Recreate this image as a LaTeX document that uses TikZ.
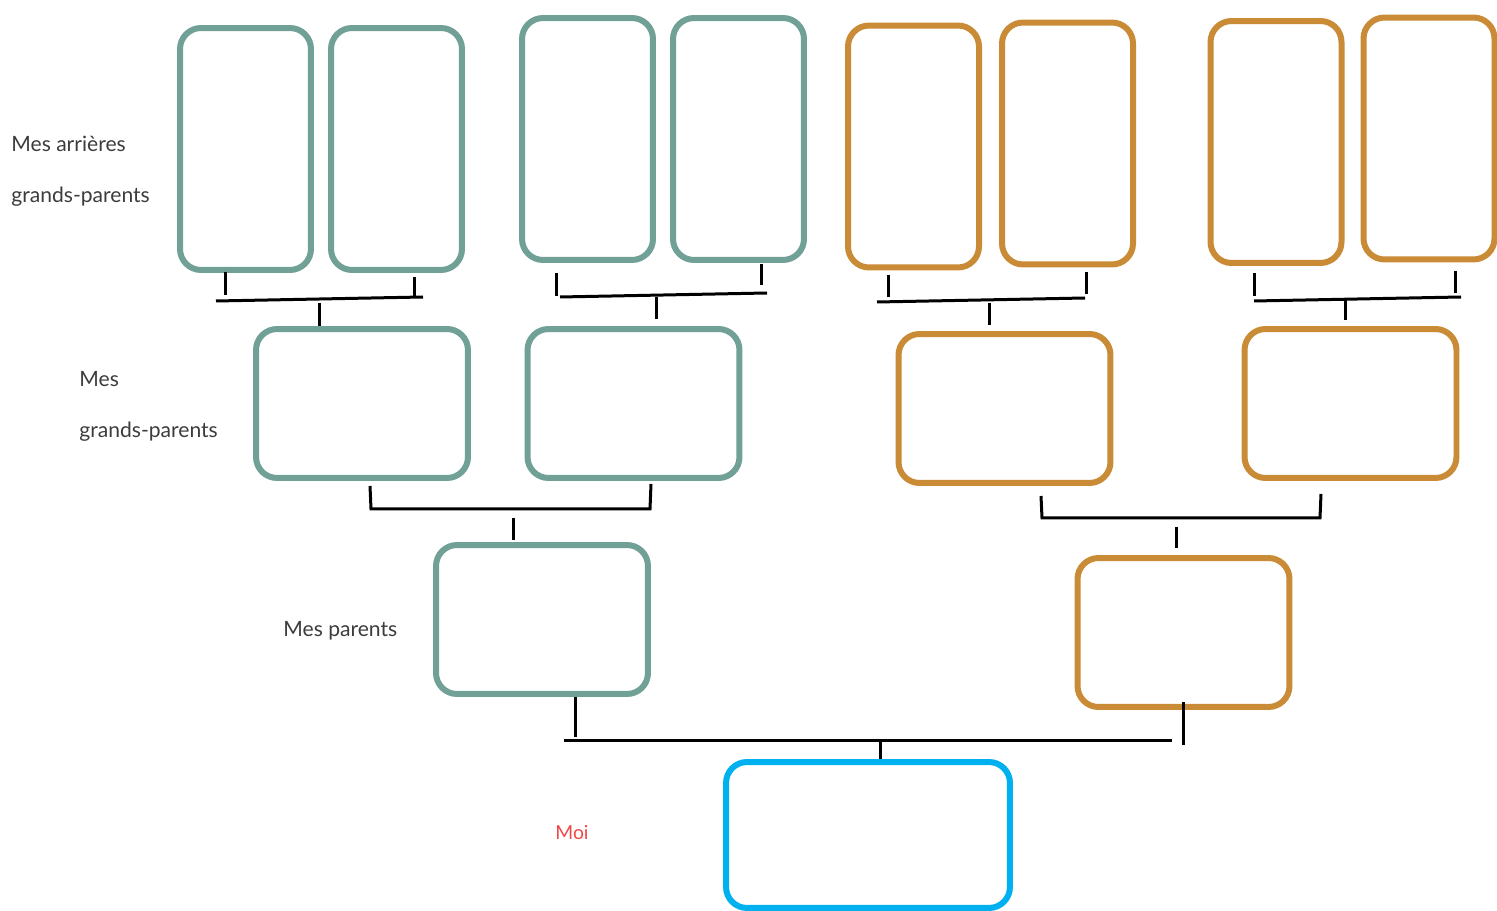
\documentclass[tikz,border=0pt]{standalone}
\usepackage{fontspec}
\setmainfont{Lato}
\definecolor{sauge}{RGB}{112,160,150}
\definecolor{ocre}{RGB}{201,139,53}
\definecolor{ciel}{RGB}{0,176,239}
\definecolor{rouge}{RGB}{240,72,72}
\definecolor{texte}{RGB}{60,60,60}
\tikzset{
  cadre/.style={draw, line width=0.12cm, rounded corners=0.42cm, inner sep=0pt},
  haut/.style={cadre, minimum width=2.62cm, minimum height=4.84cm},
  large/.style={cadre, minimum width=4.24cm, minimum height=2.98cm},
  lien/.style={line width=0.06cm},
  titre/.style={anchor=base west, inner sep=0pt, text=texte, font=\fontsize{12}{14}\selectfont}
}
\begin{document}
\begin{tikzpicture}[x=0.02cm, y=-0.02cm]
\useasboundingbox (0,0) rectangle (1497,911);

% arrieres grands-parents
\node[haut, sauge] (a1) at (245.5,149) {};
\node[haut, sauge] (a2) at (396.5,149) {};
\node[haut, sauge] (a3) at (587.5,139) {};
\node[haut, sauge] (a4) at (738.5,139) {};
\node[haut, ocre] (a5) at (913.5,146.5) {};
\node[haut, ocre] (a6) at (1067.5,143.5) {};
\node[haut, ocre] (a7) at (1276,142) {};
\node[haut, ocre] (a8) at (1429,138.5) {};

% grands-parents
\node[large, sauge] (g1) at (362,403.5) {};
\node[large, sauge] (g2) at (633.5,403.5) {};
\node[large, ocre] (g3) at (1004.5,408.5) {};
\node[large, ocre] (g4) at (1350.5,403.5) {};

% parents
\node[large, sauge] (p1) at (542,619.5) {};
\node[large, ocre] (p2) at (1183.5,632.5) {};

% moi
\node[cadre, ciel, minimum width=5.68cm, minimum height=2.92cm] (moi) at (868,835) {};

% textes
\node[titre] (t1) at (11,152) {Mes arrières};
\node[titre] (t2) at (11,203) {grands-parents};
\node[titre] (t3) at (79,387) {Mes};
\node[titre] (t4) at (79,438) {grands-parents};
\node[titre] (t5) at (283,636) {Mes parents};
\node[titre, text=rouge, font=\fontsize{11}{13}\selectfont] (t6) at (555,839) {Moi};

% liens rang 1
\coordinate (b1l) at (216,301); \coordinate (b1r) at (423,297);
\draw[lien] (225,272) -- (225,295);
\draw[lien] (414,277) -- (414,297);
\draw[lien] (b1l) -- (b1r);
\draw[lien] (319,303) -- (g1.north -| 319,0);

\coordinate (b2l) at (560,297); \coordinate (b2r) at (767,293);
\draw[lien] (556,273) -- (556,296);
\draw[lien] (761,264) -- (761,285);
\draw[lien] (b2l) -- (b2r);
\draw[lien] (656,297) -- (656,319);

\coordinate (b3l) at (877,302); \coordinate (b3r) at (1085,298);
\draw[lien] (888,275) -- (888,297);
\draw[lien] (1086,272) -- (1086,294);
\draw[lien] (b3l) -- (b3r);
\draw[lien] (989,303) -- (989,325);

\coordinate (b4l) at (1254,301); \coordinate (b4r) at (1461,297);
\draw[lien] (1254,273) -- (1254,296);
\draw[lien] (1455,271) -- (1455,293);
\draw[lien] (b4l) -- (b4r);
\draw[lien] (1345,299) -- (1345,320);

% liens rang 2
\coordinate (c1l) at (371,509); \coordinate (c1r) at (650,509);
\draw[lien] (370,486) -- (c1l) -- (c1r) -- (651,484);
\draw[lien] (513,518) -- (513,540);

\coordinate (c2l) at (1042,518); \coordinate (c2r) at (1320,518);
\draw[lien] (1041,496) -- (c2l) -- (c2r) -- (1321,494);
\draw[lien] (1176,527) -- (1176,548);

% liens rang 3
\coordinate (dl) at (564,740); \coordinate (dr) at (1172,740);
\draw[lien] (575,697) -- (575,737);
\draw[lien] (1183,702) -- (1183,745);
\draw[lien] (dl) -- (dr);
\draw[lien] (880,740) -- (moi.north -| 880,0);
\end{tikzpicture}
\end{document}
